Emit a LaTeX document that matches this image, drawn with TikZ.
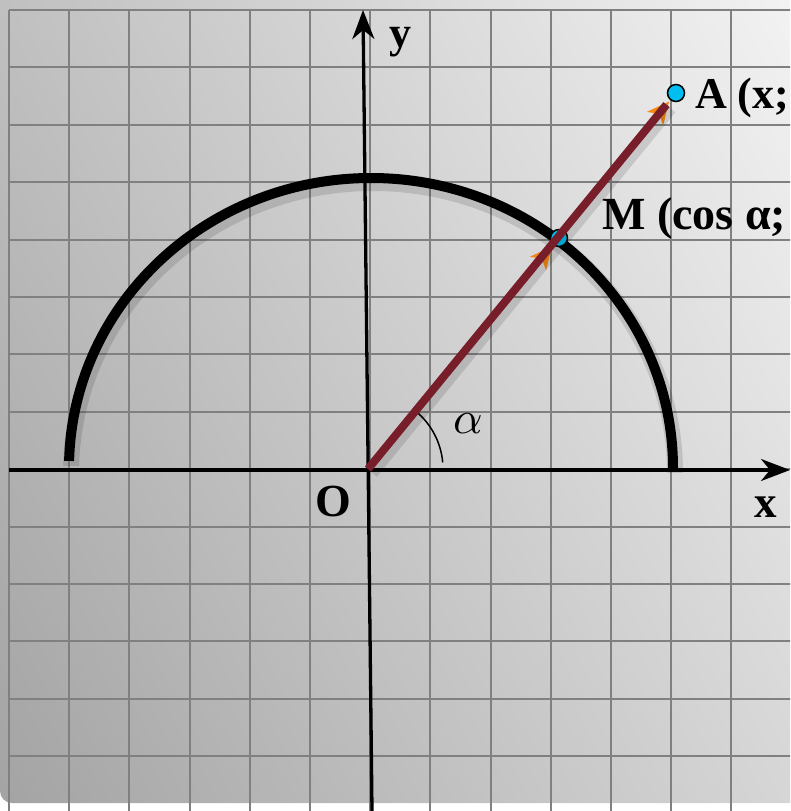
\documentclass[tikz,border=0pt]{standalone}
\usepackage{fontspec}
\setmainfont{Liberation Serif}
\usetikzlibrary{arrows.meta,calc}
\definecolor{vecred}{RGB}{120,30,42}
\definecolor{ptcyan}{RGB}{0,191,240}
\definecolor{gridgray}{RGB}{128,128,128}
\definecolor{arrorange}{RGB}{245,135,20}
\begin{document}
\begin{tikzpicture}[x=1pt,y=-1pt,
  gridline/.style={draw=gridgray, line width=2pt},
  axisline/.style={draw=black, line width=3.3pt, -{Stealth[length=29pt,width=22pt,inset=9pt]}},
  pointdot/.style={circle, fill=ptcyan, draw=black, line width=1.5pt, minimum size=17pt, inner sep=0pt},
  bigbold/.style={inner sep=0pt, anchor=base west, font=\bfseries\fontsize{#1}{#1}\selectfont},
  orangetip/.style={draw=arrorange, line width=1pt, -{Stealth[length=22pt,width=21pt,inset=6pt]}},
  shadowline/.style={draw=black, opacity=0.12}
]
\useasboundingbox (0,0) rectangle (790,811);
\clip (0,0) rectangle (790,811);
% panel with gradient
\begin{scope}
  \clip[rounded corners=12pt] (0,803) rectangle (840,-40);
  \begin{scope}[transform canvas={rotate around={29:(395,405)}}]
    \shade[left color=black!36, right color=black!5] (-147,-195) rectangle (937,1005);
  \end{scope}
\end{scope}
% grid
\foreach \k in {0,...,13} {
  \draw[gridline] ({9+60.2*\k},10) -- ({9+60.2*\k},811);
  \draw[gridline] (9,{10+57.4*\k}) -- (800,{10+57.4*\k});
}
% axes
\coordinate (O) at (368,469);
\coordinate (xs) at (9,470);
\coordinate (xe) at (790,470);
\coordinate (ys) at (372,811);
\coordinate (ye) at (363,10);
\draw[axisline] (xs) -- (xe);
\draw[axisline] (ys) -- (ye);
% semicircle
\coordinate (arcR) at (673,468);
\draw[shadowline, line width=16pt] ([shift={(2,5)}]arcR) arc[start angle=0, end angle=178.6, x radius=302pt, y radius=290pt];
\draw[black, line width=10pt] (arcR) arc[start angle=0, end angle=178.6, x radius=302pt, y radius=290pt];
% angle mark
\draw[black, line width=1.5pt] ($(O)+(5:75pt)$) arc[start angle=5, end angle=51, radius=75pt];
% points
\coordinate (Ac) at (676,93);
\coordinate (Mc) at (559,238);
\node[pointdot] (A) at (Ac) {};
\node[pointdot] (M) at (Mc) {};
% orange tips
\draw[orangetip] ($(Ac)!34pt!(O)$) -- ($(Ac)!11pt!(O)$);
\draw[orangetip] ($(Mc)!34pt!(O)$) -- ($(Mc)!11pt!(O)$);
% radius vector
\coordinate (Aend) at ($(Ac)!15pt!(O)$);
\draw[shadowline, line width=15pt] ([shift={(3,3)}]O) -- ([shift={(3,3)}]Aend);
\draw[vecred, line width=8pt] (O) -- (Aend);
% labels
\node[bigbold=44] (Alab) at (695,108) {A (x;};
\node[bigbold=46] (Mlab) at (602,229) {M (cos α;};
\node[bigbold=44] (ylab) at (389,47) {y};
\node[bigbold=45] (xlab) at (754,517) {x};
\node[bigbold=46] (Olab) at (315,516) {O};
\node[inner sep=0pt, scale=4.6] (alab) at (468,424) {$\alpha$};
\end{tikzpicture}
\end{document}
